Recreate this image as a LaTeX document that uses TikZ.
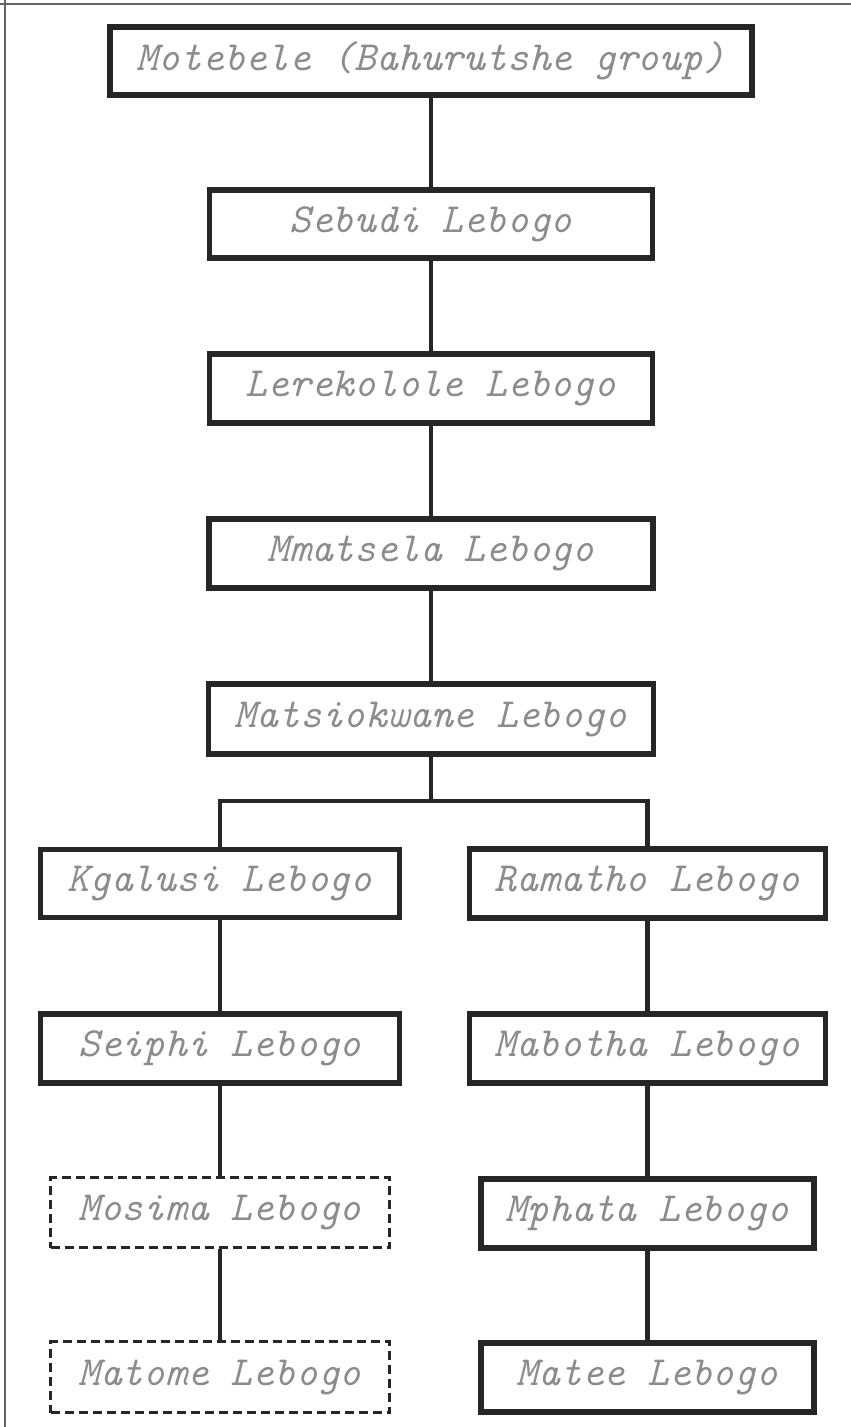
\documentclass[tikz,border=0pt]{standalone}
\usepackage{fontspec}
\begin{document}
\begin{tikzpicture}[x=1pt,y=-1pt,
  txt/.style={font=\fontsize{41.5}{44}\selectfont\ttfamily\itshape, text=black!45},
  solidbox/.style={txt, draw=black!85, line width=5.5pt, rectangle, inner sep=0pt},
  dashbox/.style={txt, draw=black!85, line width=3.5pt, rectangle, inner sep=0pt, dash pattern=on 9pt off 5pt},
  link/.style={draw=black!85, line width=4.5pt},
  frame/.style={draw=black!60, line width=1.5pt}]
\useasboundingbox (0,0) rectangle (851,1427);
\coordinate (f1) at (0,4);
\coordinate (f2) at (851,4);
\coordinate (f3) at (5,0);
\coordinate (f4) at (5,1427);
\draw[frame] (f1) -- (f2);
\draw[frame] (f3) -- (f4);

\node[solidbox, minimum width=642pt, minimum height=68pt] (mot) at (431,61) {Motebele (Bahurutshe group)};
\node[solidbox, minimum width=443pt, minimum height=68pt] (seb) at (431,224) {Sebudi Lebogo};
\node[solidbox, minimum width=443pt, minimum height=69pt] (ler) at (431,388.5) {Lerekolole Lebogo};
\node[solidbox, minimum width=444pt, minimum height=69pt] (mma) at (431,553.5) {Mmatsela Lebogo};
\node[solidbox, minimum width=445pt, minimum height=70pt] (mats) at (431,719) {Matsiokwane Lebogo};

\node[solidbox, minimum width=359pt, minimum height=68pt] (kga) at (220,883.5) {Kgalusi Lebogo};
\node[solidbox, minimum width=356pt, minimum height=69pt] (ram) at (647.5,883.5) {Ramatho Lebogo};
\node[solidbox, minimum width=359pt, minimum height=69pt] (sei) at (220,1048.5) {Seiphi Lebogo};
\node[solidbox, minimum width=356pt, minimum height=69pt] (mab) at (647.5,1048.5) {Mabotha Lebogo};
\node[dashbox, minimum width=339pt, minimum height=70pt] (mos) at (220,1212.5) {Mosima Lebogo};
\node[solidbox, minimum width=333pt, minimum height=69pt] (mph) at (647.5,1213.5) {Mphata Lebogo};
\node[dashbox, minimum width=339pt, minimum height=71pt] (mat) at (220,1377) {Matome Lebogo};
\node[solidbox, minimum width=333pt, minimum height=69pt] (mte) at (647.5,1377.5) {Matee Lebogo};

\coordinate (br) at (431,801);

\draw[link] (mot.south) -- (seb.north);
\draw[link] (seb.south) -- (ler.north);
\draw[link] (ler.south) -- (mma.north);
\draw[link] (mma.south) -- (mats.north);
\draw[link] (mats.south) -- (br);
\draw[link] (kga.north) |- (br) -| (ram.north);
\draw[link] (kga.south) -- (sei.north);
\draw[link] (sei.south) -- (mos.north);
\draw[link] (mos.south) -- (mat.north);
\draw[link] (ram.south) -- (mab.north);
\draw[link] (mab.south) -- (mph.north);
\draw[link] (mph.south) -- (mte.north);
\end{tikzpicture}
\end{document}
